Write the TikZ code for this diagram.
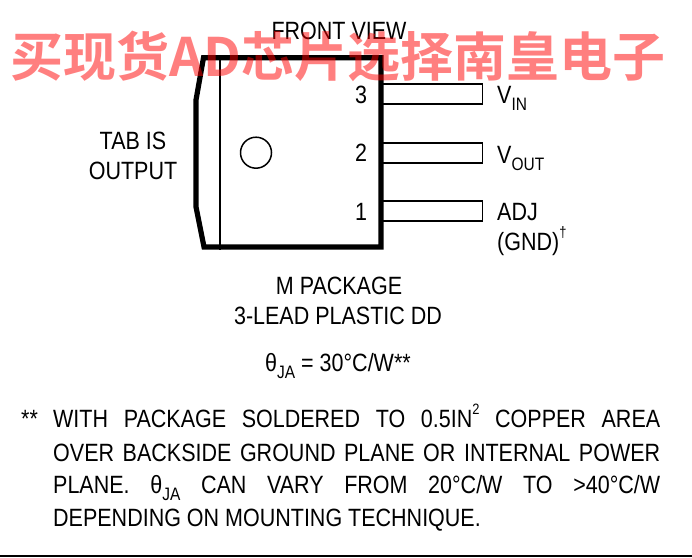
\documentclass[tikz,border=0pt]{standalone}
\usepackage{fontspec}
\setmainfont[FakeStretch=0.86]{Liberation Sans}
\newfontfamily\cjkfont{Noto Sans CJK SC}[BoldFont=* Bold]
\usetikzlibrary{positioning}
\newcommand{\lowtext}[1]{\raisebox{-0.28em}{\fontsize{18}{18}\selectfont #1}}
\newcommand{\hightext}[1]{\raisebox{0.5em}{\fontsize{15}{15}\selectfont #1}}
\begin{document}
\begin{tikzpicture}[x=1pt, y=-1pt]

		\tikzstyle{lbl}=[inner sep=0pt, anchor=base, font=\fontsize{25}{25}\selectfont, text=black]
		\tikzstyle{lblw}=[lbl, anchor=base west]
		\tikzstyle{lead}=[rectangle, draw, line width=1.6pt, fill=white, inner sep=0pt, minimum width=100.5pt, minimum height=20pt, anchor=west]
		\tikzstyle{hole}=[circle, draw, line width=1.5pt, inner sep=0pt, minimum size=31pt]
		\tikzstyle{stamp}=[inner sep=0pt, anchor=base west, text=red, text opacity=0.5, font=\cjkfont\bfseries\fontsize{53}{53}\selectfont]

		\useasboundingbox (0,0) rectangle (692,557);

		% Leads
		\node[lead] (l3) at (381,94) {};
		\node[lead] (l2) at (381,152.7) {};
		\node[lead] (l1) at (381,211) {};

		% Package body
		\draw[line width=5.2pt, miter limit=10] (203.5,57.7) -- (381,57.7) -- (381,247) -- (204,247) -- (196,207) -- (196,100) -- cycle;
		\coordinate (tabtop) at (220,57);
		\coordinate (tabbot) at (220,250);
		\draw[line width=1.5pt] (tabtop) -- (tabbot);
		\node[hole] (h) at (256,152.7) {};

		% Pin numbers
		\node[lbl] (n3) at (361,103) {3};
		\node[lbl] (n2) at (361,161) {2};
		\node[lbl] (n1) at (361,220) {1};

		% Pin names
		\node[lblw] (vin) at (497,103) {V\lowtext{IN}};
		\node[lblw] (vout) at (497,163) {V\lowtext{OUT}};
		\node[lblw] (adj) at (497,220) {ADJ};
		\node[lblw] (gnd) at (497,250) {(GND)\hightext{†}};

		\node[lbl] (fv) at (339,39.5) {FRONT VIEW};
		\node[lbl] (t1) at (133,149) {TAB IS};
		\node[lbl] (t2) at (133,179) {OUTPUT};
		\node[lbl] (m1) at (339,294) {M PACKAGE};
		\node[lbl] (m2) at (338,324) {3-LEAD PLASTIC DD};
		\node[lbl] (th) at (338,371) {θ\lowtext{JA} = 30°C/W**};

		% Note
		\node[lblw] (st) at (21,427) {**};
		\node[lblw] (p1) at (53,427) {\makebox[607pt][s]{WITH PACKAGE SOLDERED TO 0.5IN\hightext{2} COPPER AREA}};
		\node[lblw] (p2) at (53,461) {\makebox[607pt][s]{OVER BACKSIDE GROUND PLANE OR INTERNAL POWER}};
		\node[lblw] (p3) at (53,493) {\makebox[607pt][s]{PLANE. θ\lowtext{JA} CAN VARY FROM 20°C/W TO >40°C/W}};
		\node[lblw] (p4) at (53,526) {DEPENDING ON MOUNTING TECHNIQUE.};

		% Bottom rule
		\fill[black] (0,555) rectangle (692,557);

		% Stamp
		\node[stamp] (wm) at (10,76) {买现货AD芯片选择南皇电子};
\end{tikzpicture}
\end{document}
